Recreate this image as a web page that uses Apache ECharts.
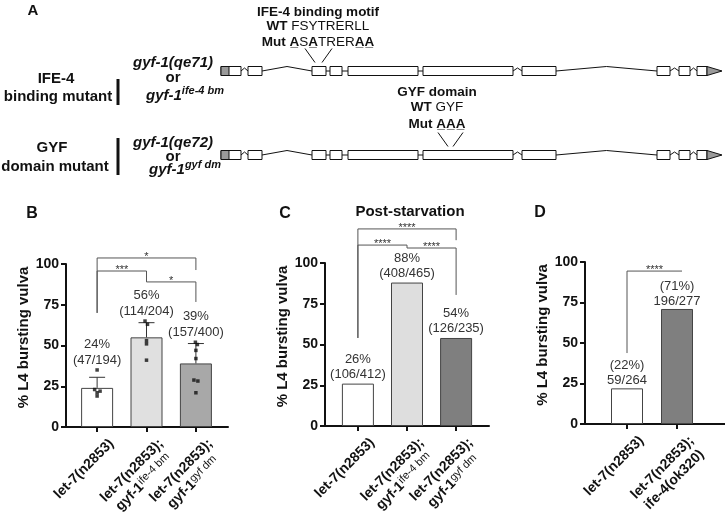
<!DOCTYPE html>
<html><head><meta charset="utf-8">
<script src="https://cdn.jsdelivr.net/npm/echarts@6/dist/echarts.min.js"></script>
<style>html,body{margin:0;padding:0;background:#fff}#c{width:725px;height:524px}</style>
</head><body><div id="c"></div>
<script>
const FONT = '"Liberation Sans", Arial, Helvetica, sans-serif';

// ---------- Panel A: gene model (positions along the gene, arbitrary units) ----------
const geneRows = ['gyf-1(qe71)', 'gyf-1(qe72)'];
const geneExons = [[0,20],[27,41],[91,105],[109,121],[127,197],[202,292],[301,335],[436,449],[458,469],[476,486]];
const geneIntrons = ['wiggle','peak','line','line','line','wiggle','peak','wiggle','wiggle'];
const geneUTR5 = [0, 8];
const geneUTR3 = [486, 501];
const motifSites = [[94, 101], [227, 232]];

// ---------- Panel B ----------
const bCategories = ['let-7(n2853)', 'let-7(n2853);\ngyf-1^ife-4 bm', 'let-7(n2853);\ngyf-1^gyf dm'];
const bValues = [24, 55, 39];
const bErrorTop = [30.5, 64, 51.2];
const bPct = ['24%', '56%', '39%'];
const bCounts = ['(47/194)', '(114/204)', '(157/400)'];
const bDots = [
  [0, 35], [-0.05, 23], [0.06, 22], [0, 21], [0, 19],
  [0.97, 65], [1.02, 63], [1, 53], [1, 51], [1, 41],
  [1.99, 52], [2.03, 50.6], [2, 47], [2, 42], [1.96, 28.8], [2.04, 28.2], [2, 21]
];
const bBrackets = [[0, 2, 103.7, 70, 96.3], [0, 1, 95.7, 70, 89], [1, 2, 89, 89, 76.7]];
const bStars = ['*', '***', '*'];

// ---------- Panel C ----------
const cCategories = bCategories;
const cValues = [26, 88, 54];
const cPct = ['26%', '88%', '54%'];
const cCounts = ['(106/412)', '(408/465)', '(126/235)'];
const cBrackets = [[0, 2, 120.9, 54, 114], [0, 1, 111, 54, 109.2], [1, 2, 109.2, 109.2, 80.4]];
const cStars = ['****', '****', '****'];

// ---------- Panel D ----------
const dCategories = ['let-7(n2853)', 'let-7(n2853);\nife-4(ok320)'];
const dValues = [22, 71];
const dPct = ['(22%)', '(71%)'];
const dCounts = ['59/264', '196/277'];
const dBrackets = [[0, 1.1, 94.4, 43.8, 94.4]];
const dStars = ['****'];

const yTicks = [0, 25, 50, 75, 100];
const yName = '% L4 bursting vulva';

// ---------- helpers ----------
function fmtCat(s) {
  return s.split('\n').map(line => {
    const i = line.indexOf('^');
    if (i < 0) return '{a|' + line + '}';
    return '{a|' + line.slice(0, i) + '}{s|' + line.slice(i + 1) + '}';
  }).join('\n');
}
const catRich = {
  a: { fontWeight: 'bold', fontSize: 14, color: '#111', fontFamily: FONT, lineHeight: 17, align: 'center' },
  s: { fontSize: 11, color: '#111', fontFamily: FONT, lineHeight: 9, verticalAlign: 'top', align: 'center' }
};
function makeX(gi, min, max, cats) {
  const idx = cats.map((_, i) => i);
  return {
    type: 'value', gridIndex: gi, min, max,
    axisLine: { show: true, onZero: false, lineStyle: { color: '#111', width: 2 } },
    axisTick: { show: true, customValues: idx, length: 5, lineStyle: { color: '#111', width: 2 } },
    axisLabel: { show: true, customValues: idx, rotate: 45, margin: 0, verticalAlign: 'top',
      padding: [12, 0, 0, 0],
      formatter: v => fmtCat(cats[Math.round(v)]), rich: catRich },
    splitLine: { show: false }
  };
}
function makeY(gi, gap) {
  return {
    type: 'value', gridIndex: gi, min: yTicks[0], max: yTicks[yTicks.length - 1], interval: 25,
    name: yName, nameLocation: 'middle', nameGap: gap,
    nameTextStyle: { fontWeight: 'bold', fontSize: 15, color: '#111', fontFamily: FONT, padding: [0, 0, 0, 16] },
    axisLine: { show: true, onZero: false, lineStyle: { color: '#111', width: 2 } },
    axisTick: { show: true, length: 5, lineStyle: { color: '#111', width: 2 } },
    axisLabel: { color: '#111', fontWeight: 'bold', fontSize: 14, fontFamily: FONT, margin: 7 },
    splitLine: { show: false }
  };
}
function barSeries(gi, values, colors, pct, counts, withLabel, dist) {
  return {
    type: 'bar', xAxisIndex: gi, yAxisIndex: gi, barWidth: 32,
    data: values.map((v, i) => ({ value: [i, v], itemStyle: { color: colors[i] } })),
    itemStyle: { borderColor: '#444', borderWidth: 1 },
    label: withLabel ? {
      show: true, position: 'top', distance: dist,
      formatter: p => pct[p.dataIndex] + '\n' + counts[p.dataIndex],
      color: '#333', fontSize: 13, lineHeight: 15, fontFamily: FONT
    } : { show: false },
    z: 2
  };
}
function bracketSeries(gi, brackets, stars) {
  return {
    type: 'custom', xAxisIndex: gi, yAxisIndex: gi, clip: false, silent: true, z: 5,
    data: brackets,
    encode: { x: [0, 1], y: [2, 3, 4] },
    renderItem: (params, api) => {
      const x1 = api.value(0), x2 = api.value(1), yl = api.value(2), ya = api.value(3), yb = api.value(4);
      const p1 = api.coord([x1, ya]), p2 = api.coord([x1, yl]), p3 = api.coord([x2, yl]), p4 = api.coord([x2, yb]);
      return {
        type: 'group', children: [
          { type: 'polyline', shape: { points: [p1, p2, p3, p4] }, style: { stroke: '#555', lineWidth: 1, fill: null } },
          { type: 'text', style: { text: stars[params.dataIndex], x: (p2[0] + p3[0]) / 2, y: p2[1] - 1,
              textAlign: 'center', align: 'center', textVerticalAlign: 'middle', verticalAlign: 'middle',
              font: '11px ' + FONT, fill: '#333' } }
        ]
      };
    }
  };
}
// highest plotted point per bar in B (error cap or dot), used to park the text above it
const bTopPoint = bValues.map((v, i) => Math.max(bErrorTop[i],
  ...bDots.filter(d => Math.round(d[0]) === i).map(d => d[1])));

// ---------- gene render ----------
function geneRender(params, api) {
  const row = params.dataIndex;
  const cy = api.coord([0, row])[1];
  const X = v => api.coord([v, row])[0];
  const h = 9;
  const ch = [];
  const st = { stroke: '#111', lineWidth: 1, fill: null };
  geneIntrons.forEach((t, i) => {
    const x1 = X(geneExons[i][1]), x2 = X(geneExons[i + 1][0]), m = (x1 + x2) / 2;
    let pts;
    if (t === 'peak') pts = [[x1, cy], [m, cy - 4.5], [x2, cy]];
    else if (t === 'wiggle') pts = [[x1, cy], [m, cy - 3], [x2, cy]];
    else pts = [[x1, cy], [x2, cy]];
    ch.push({ type: 'polyline', shape: { points: pts }, style: st });
  });
  geneExons.forEach(e => {
    ch.push({ type: 'rect', shape: { x: X(e[0]), y: cy - h / 2, width: X(e[1]) - X(e[0]), height: h },
      style: { fill: '#fff', stroke: '#111', lineWidth: 1 } });
  });
  ch.push({ type: 'rect', shape: { x: X(geneUTR5[0]), y: cy - h / 2, width: X(geneUTR5[1]) - X(geneUTR5[0]), height: h },
    style: { fill: '#9a9a9a', stroke: '#111', lineWidth: 1 } });
  ch.push({ type: 'polygon', shape: { points: [[X(geneUTR3[0]), cy - h / 2], [X(geneUTR3[1]), cy], [X(geneUTR3[0]), cy + h / 2]] },
    style: { fill: '#9a9a9a', stroke: '#111', lineWidth: 1 } });
  const m = motifSites[row];
  const top = cy - h / 2;
  ch.push({ type: 'line', shape: { x1: X(m[0]) - 10, y1: top - 18, x2: X(m[0]), y2: top - 4 }, style: st });
  ch.push({ type: 'line', shape: { x1: X(m[1]) + 10, y1: top - 18, x2: X(m[1]), y2: top - 4 }, style: st });
  return { type: 'group', children: ch };
}

// ---------- graphic text ----------
const richA = {
  b: { font: 'bold 13.5px ' + FONT, fill: '#111', color: '#111' },
  n: { font: '13.5px ' + FONT, fill: '#111', color: '#111' },
  u: { font: 'bold 13.5px ' + FONT, fill: '#111', color: '#111' },
  i: { font: 'italic bold 15px ' + FONT, fill: '#111', color: '#111', lineHeight: 22 },
  s: { font: 'italic bold 11px ' + FONT, fill: '#111', color: '#111', lineHeight: 11, verticalAlign: 'top' }
};
function T(x, y, text, font, rich) {
  const style = { text, x, y, font: font + ' ' + FONT, fill: '#111',
    textAlign: 'center', align: 'center', textVerticalAlign: 'middle', verticalAlign: 'middle' };
  if (rich) style.rich = richA;
  return { type: 'text', silent: true, z: 10, style };
}
function L(x1, y1, x2, y2, w) {
  return { type: 'line', silent: true, z: 10, shape: { x1, y1, x2, y2 }, style: { stroke: '#111', lineWidth: w } };
}
const U = 'A\u0332';
const graphics = [
  T(33, 11, 'A', 'bold 15px'),
  T(318, 12, 'IFE-4 binding motif', 'bold 13.5px'),
  T(318, 26, '{b|WT} {n|FSYTRERLL}', '13.5px', true),
  T(318, 42, '{b|Mut} {u|' + U + '}{n|S}{u|' + U + '}{n|TRER}{u|' + U + U + '}', '13.5px', true),
  T(437, 92, 'GYF domain', 'bold 13.5px'),
  T(437, 107, '{b|WT} {n|GYF}', '13.5px', true),
  T(437, 124, '{b|Mut} {u|' + U + U + U + '}', '13.5px', true),
  T(56, 79, 'IFE-4', 'bold 15px'),
  T(58, 97, 'binding mutant', 'bold 15px'),
  L(118, 79, 118, 105, 3),
  T(173, 63, 'gyf-1(qe71)', 'italic bold 15px'),
  T(173, 78, 'or', 'bold 15px'),
  T(185, 96, '{i|gyf-1}{s|ife-4 bm}', 'bold 15px', true),
  T(52, 148, 'GYF', 'bold 15px'),
  T(55, 167, 'domain mutant', 'bold 15px'),
  L(118, 138, 118, 175, 3),
  T(173, 143, 'gyf-1(qe72)', 'italic bold 15px'),
  T(173, 157, 'or', 'bold 15px'),
  T(185, 170, '{i|gyf-1}{s|gyf dm}', 'bold 15px', true),
  T(32, 214, 'B', 'bold 16px'),
  T(285, 214, 'C', 'bold 16px'),
  T(540, 213, 'D', 'bold 16px'),
  T(410, 212, 'Post-starvation', 'bold 15px')
];

const chart = echarts.init(document.getElementById('c'), null, { renderer: 'canvas' });
chart.setOption({
  animation: false,
  backgroundColor: '#fff',
  textStyle: { fontFamily: FONT },
  grid: [
    { left: 221, width: 502, top: 29, height: 168 },
    { left: 66, width: 162, top: 264, height: 163 },
    { left: 325, width: 164, top: 263, height: 163 },
    { left: 585, width: 140, top: 262, height: 162 }
  ],
  xAxis: [
    { type: 'value', gridIndex: 0, min: 0, max: 502, show: false },
    makeX(1, -0.63, 2.65, bCategories),
    makeX(2, -0.67, 2.67, cCategories),
    makeX(3, -0.84, 1.96, dCategories)
  ],
  yAxis: [
    { type: 'category', gridIndex: 0, data: geneRows, inverse: true, show: false },
    makeY(1, 32),
    makeY(2, 30),
    makeY(3, 30)
  ],
  series: [
    { type: 'custom', xAxisIndex: 0, yAxisIndex: 0, clip: false, silent: true,
      data: geneRows.map((_, i) => [0, i]), encode: { x: 0, y: 1 }, renderItem: geneRender },
    barSeries(1, bValues, ['#ffffff', '#e0e0e0', '#a8a8a8'], bPct, bCounts, false, 0),
    { type: 'custom', xAxisIndex: 1, yAxisIndex: 1, clip: false, silent: true, z: 4,
      data: bValues.map((v, i) => [i, v, bErrorTop[i], bTopPoint[i]]), encode: { x: 0, y: [1, 2, 3] },
      renderItem: (params, api) => {
        const x = api.value(0), m = api.value(1), t = api.value(2), hi = api.value(3);
        const p0 = api.coord([x, m]), p1 = api.coord([x, t]), ph = api.coord([x, hi]);
        const s = { stroke: '#333', lineWidth: 1 };
        return { type: 'group', children: [
          { type: 'line', shape: { x1: p0[0], y1: p0[1], x2: p1[0], y2: p1[1] }, style: s },
          { type: 'line', shape: { x1: p1[0] - 8, y1: p1[1], x2: p1[0] + 8, y2: p1[1] }, style: s },
          { type: 'text', style: { text: bPct[params.dataIndex] + '\n' + bCounts[params.dataIndex],
              x: p1[0], y: ph[1] - 2, textAlign: 'center', align: 'center',
              textVerticalAlign: 'bottom', verticalAlign: 'bottom', lineHeight: 16,
              font: '13px ' + FONT, fill: '#333' } }
        ] };
      } },
    { type: 'scatter', xAxisIndex: 1, yAxisIndex: 1, symbol: 'rect', symbolSize: 3.5,
      itemStyle: { color: '#111' }, data: bDots, z: 6, silent: true },
    bracketSeries(1, bBrackets, bStars),
    barSeries(2, cValues, ['#ffffff', '#dedede', '#7f7f7f'], cPct, cCounts, true, 2),
    bracketSeries(2, cBrackets, cStars),
    barSeries(3, dValues, ['#ffffff', '#7f7f7f'], dPct, dCounts, true, 0),
    bracketSeries(3, dBrackets, dStars)
  ],
  graphic: graphics
});
</script></body></html>
